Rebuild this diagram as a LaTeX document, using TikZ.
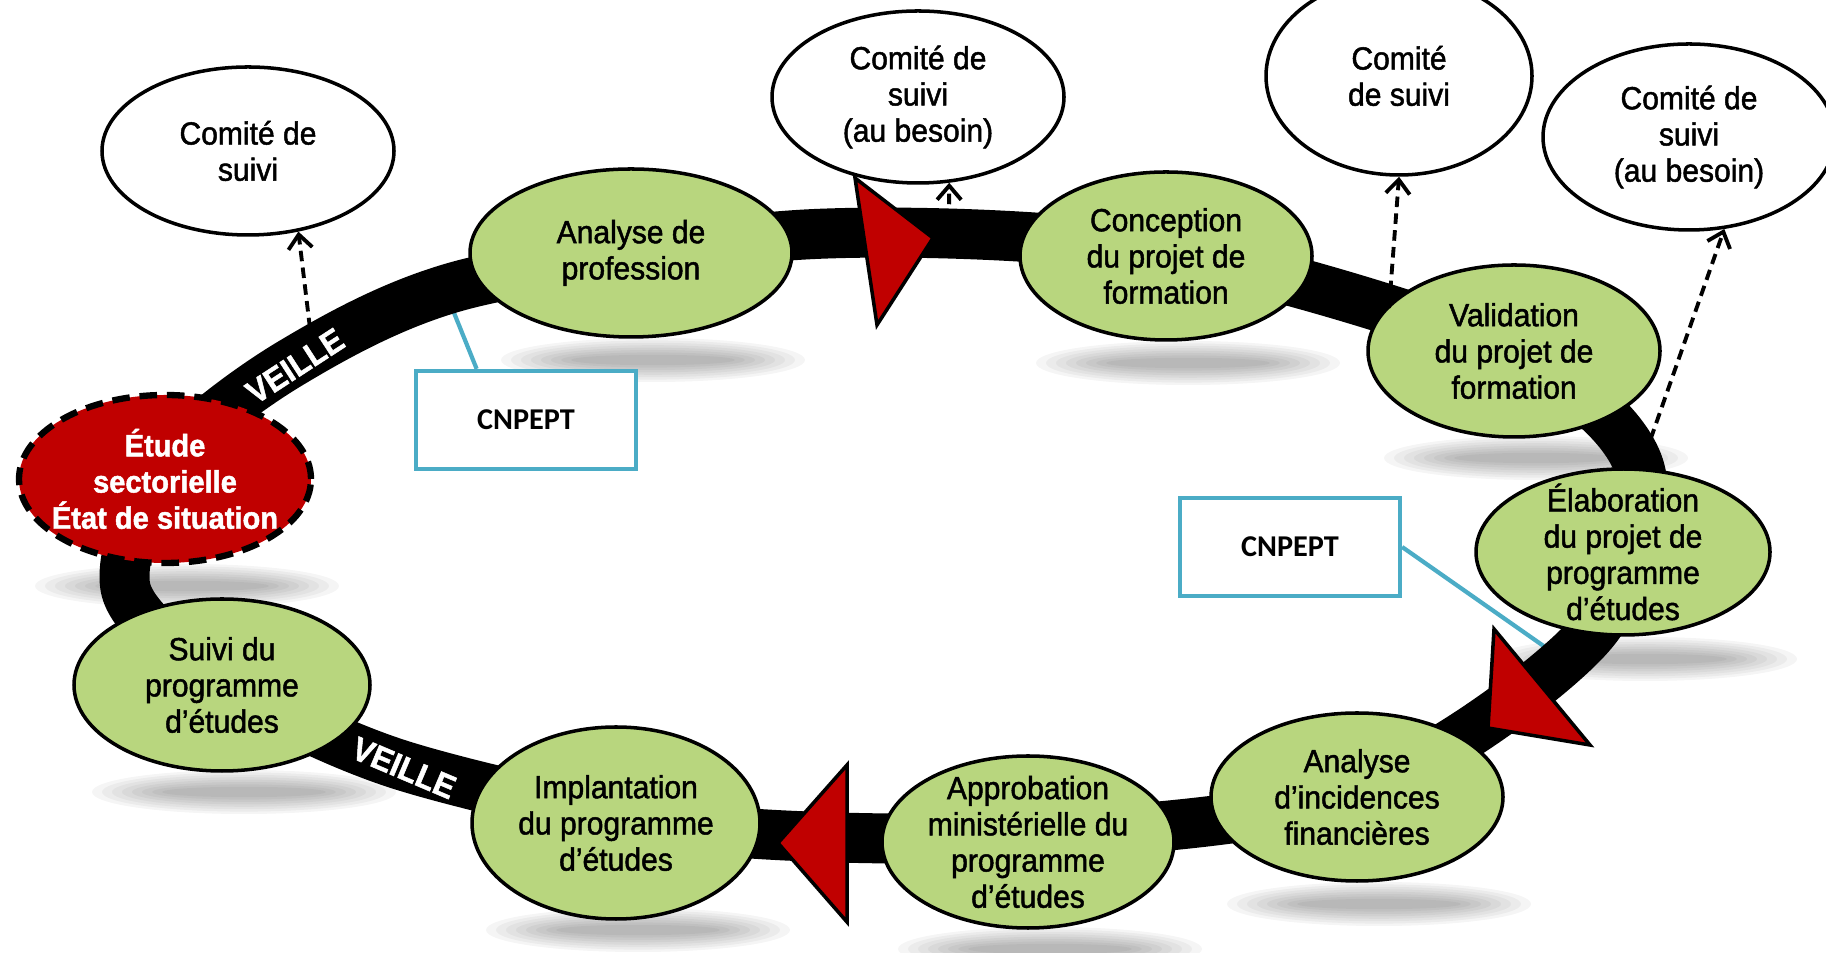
\documentclass[tikz,border=0pt]{standalone}
\usepackage{fontspec}
\setmainfont{Liberation Sans}[FakeStretch=0.94, FakeBold=1.5]
\newfontfamily\cnfont{Carlito}
\usetikzlibrary{shapes.geometric, arrows.meta, calc, backgrounds}
\definecolor{stagegreen}{RGB}{184,214,126}
\definecolor{markred}{RGB}{192,0,0}
\definecolor{cnblue}{RGB}{75,172,198}

\begin{document}
\begin{tikzpicture}[x=0.1mm, y=-0.1mm, font=\fontsize{9.1}{10.3}\selectfont,
    stage/.style={ellipse, draw, line width=1pt, fill=stagegreen, align=center, inner sep=-3mm, minimum width=29.2mm, minimum height=16.8mm},
    comite/.style={stage, fill=white},
    etude/.style={stage, fill=markred, text=white, font=\fontsize{8.8}{10.3}\selectfont\bfseries, line width=1.8pt, dash pattern=on 5pt off 2.8pt},
    cnbox/.style={draw=cnblue, line width=1.2pt, fill=white, minimum width=22mm, minimum height=9.8mm, font=\cnfont\bfseries\fontsize{8.6}{10}\selectfont},
    cnline/.style={draw=cnblue, line width=1.2pt},
    veille/.style={text=white, font=\fontsize{9.4}{11}\selectfont\bfseries},
    tosuivi/.style={-{Straight Barb[length=1.4mm, width=2.4mm]}, line width=1.1pt, dash pattern=on 3pt off 1.8pt},
    marker/.style={fill=markred, draw, line width=1pt}]
    \useasboundingbox (0,0) rectangle (1826,953);
    \clip (0,0) rectangle (1826,953);

    \node[cnbox] (cn1) at (526,420) {CNPEPT};
    \node[cnbox] (cn2) at (1290,547) {CNPEPT};
    \coordinate (k1) at (446,293);
    \coordinate (k2) at (1565,661);
    \draw[cnline] (cn1.134) -- (k1);
    \draw[cnline] (cn2.east) -- (k2);

    \draw[line width=5mm] plot[smooth cycle] coordinates {(126,590) (165,465) (291,363) (470,283) (815,234) (1167,252) (1514,355) (1640,470) (1590,635) (1357,792) (1028,836) (699,829) (404,766) (221,681)};
    \filldraw[marker] (855,178) -- (933,238) -- (877,325) -- cycle;
    \filldraw[marker] (1494,629) -- (1590,745) -- (1488,728) -- cycle;
    \filldraw[marker] (847,765) -- (778,843) -- (847,922) -- cycle;
    \node[veille, rotate=33] (v1) at (295,366) {VEILLE};
    \node[veille, rotate=-23] (v2) at (404,768) {VEILLE};

    \node[etude] (es) at (165,479) {Étude\\sectorielle\\État de situation};
    \node[stage, minimum width=32.2mm] (ap) at (631,253) {Analyse de\\profession};
    \node[stage] (cp) at (1166,256) {Conception\\du projet de\\formation};
    \node[stage, minimum height=17.2mm] (vp) at (1514,351) {Validation\\du projet de\\formation};
    \node[stage, minimum width=29.4mm, minimum height=16.6mm] (ep) at (1623,552) {Élaboration\\du projet de\\programme\\d’études};
    \node[stage] (ai) at (1357,797) {Analyse\\d’incidences\\financières};
    \node[stage, minimum height=17.2mm] (am) at (1028,842) {Approbation\\ministérielle du\\programme\\d’études};
    \node[stage, minimum width=28.8mm, minimum height=19.2mm] (ip) at (616,823) {Implantation\\du programme\\d’études};
    \node[stage, minimum width=29.6mm, minimum height=17.2mm] (sp) at (222,685) {Suivi du\\programme\\d’études};

    \node[comite] (cs1) at (248,151) {Comité de\\suivi};
    \node[comite, minimum height=17.2mm] (cs2) at (918,97) {Comité de\\suivi\\(au besoin)};
    \node[comite, minimum width=26.6mm, minimum height=19.8mm] (cs3) at (1399,76) {Comité\\de suivi};
    \node[comite, minimum height=18.6mm] (cs4) at (1689,137) {Comité de\\suivi\\(au besoin)};

    \coordinate (b1) at (312,345);
    \coordinate (b2) at (949,238);
    \coordinate (b3) at (1389,308);
    \coordinate (b4) at (1645,455);
    \draw[tosuivi] (b1) -- (cs1.-58);
    \draw[tosuivi] (b2) -- (cs2.-70);
    \draw[tosuivi] (b3) -- (cs3.south);
    \draw[tosuivi] (b4) -- (cs4.-69);

    \begin{scope}[on background layer]
        \foreach \n in {es,ap,cp,vp,ep,ai,am,ip,sp} {
            \foreach \k in {0,...,7}
                \fill[black, opacity=0.04] ($(\n)+(22,107)$) ellipse ({152-10*\k} and {22-2.4*\k});
        }
    \end{scope}
\end{tikzpicture}
\end{document}
